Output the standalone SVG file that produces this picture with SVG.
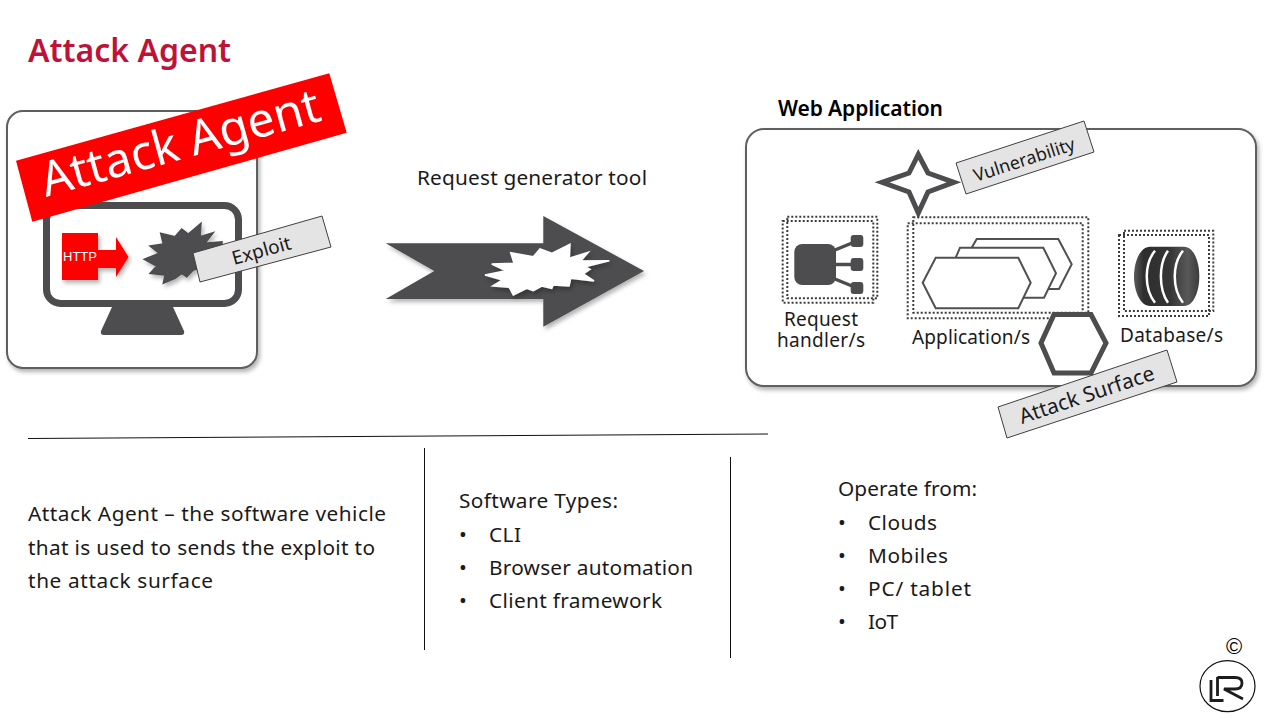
<svg xmlns="http://www.w3.org/2000/svg" width="1280" height="720" viewBox="0 0 1280 720">
<style>
text{font-family:"Noto Sans","Open Sans",sans-serif;fill:#1a1a1a}
.body{font-size:20.800px}
.lbl{font-size:19px}
.tag{fill:#e4e4e4;stroke:#404040;stroke-width:1}
.dot{fill:none;stroke:#3c3c3c;stroke-width:2;stroke-dasharray:2 2}
.hex{fill:#fff;stroke:#505050;stroke-width:2}
.dark{fill:#4d4d4f}
.rule{stroke:#111;stroke-width:1;fill:none}
.panel{fill:#fff;stroke:#5f5f5f;stroke-width:2}
</style>
<defs>
<filter id="sh" x="-10%" y="-10%" width="125%" height="125%"><feDropShadow dx="2" dy="3" stdDeviation="2" flood-color="#000" flood-opacity=".3"/></filter>
<linearGradient id="db" x1="0" x2="1" y1="0" y2="0"><stop offset="0" stop-color="#5a5a5a"/><stop offset=".15" stop-color="#2e2e2e"/><stop offset=".55" stop-color="#353535"/><stop offset=".82" stop-color="#585858"/><stop offset="1" stop-color="#3c3c3c"/></linearGradient>
</defs>
<rect width="1280" height="720" fill="#fff"/>
<text id="title" x="28" y="62" font-weight="600" style="fill:#bf1238;font-size:32px">Attack Agent</text>

<g id="attack-agent">
<rect class="panel" x="7" y="111" width="250" height="257" rx="16" filter="url(#sh)"/>
<rect x="46.500" y="205.500" width="192" height="98" rx="14" fill="#fff" stroke="#4d4d4f" stroke-width="7"/>
<path class="dark" d="M112 307H173L184 331Q185 335 181 335H104Q100 335 101 331Z"/>
<g filter="url(#sh)">
<rect x="62" y="233" width="36" height="47" fill="#f00"/>
<path fill="#f00" d="M98 250H116V237L128.500 257L116 277V268H98Z"/>
</g>
<text x="63" y="261" style="fill:#fff;font-family:'Liberation Sans',sans-serif;font-size:13px">HTTP</text>
<polygon class="dark" stroke="#4d4d4f" stroke-width="1.500" filter="url(#sh)" points="144.300,259.300 159.300,253.300 150,246 163.300,244 160.700,233.300 175,236.700 181.700,229 188.300,234 201,223.300 200,236.700 213.300,232.700 205,243.300 222,241.700 222,262 193.300,270 186.700,276.700 181.700,273.300 175,278.300 163.300,283.300 165,275 150,273.300 156.700,266"/>
</g>

<g id="attack-agent-banner">
<polygon points="16,160.700 329.300,73.300 346.700,132.700 32.300,221.700" fill="#f00"/>
<text transform="translate(46,197) rotate(-15.500)" style="fill:#fff;font-size:48px">Attack Agent</text>
</g>
<g id="exploit-tag">
<polygon class="tag" points="193,253 322,216 331,247 200,282"/>
<text transform="translate(234,265) rotate(-15.500)" style="font-size:19px">Exploit</text>
</g>

<g id="request-tool">
<text x="417" y="185" class="body" textLength="230">Request generator tool</text>
<polygon class="dark" filter="url(#sh)" points="385.700,243.300 543.300,243.300 543.300,216 644,271 543.300,326.700 543.300,299 385.700,299 434.300,271"/>
<polygon fill="#fff" stroke="#fff" stroke-width="1.500" filter="url(#sh)" points="485,275 506,270.700 491.700,264 514,263.300 510.700,252.700 533.300,256.700 540,249 551.700,253.300 570,244.300 569.300,258.300 588.300,252.300 580.700,261 609.300,260.700 585,266.700 590,269.300 583.300,274 594,281 570.700,278.300 569,286 553.300,285 551.700,288.300 541.700,286 533.300,290.700 526.700,288.300 513.300,295 509.300,287.300 492.700,286 502.700,280"/>
</g>

<g id="web-application">
<text x="778" y="116" textLength="165" style="font-size:21px;font-weight:600;fill:#000">Web Application</text>
<rect class="panel" x="746" y="129" width="510" height="257" rx="18" filter="url(#sh)"/>
</g>

<g id="vulnerability-star">
<path d="M918.300 154.500L928 173L954 182.300L928 192L918.300 213L909 192L882 182.300L909 173Z" fill="#fff" stroke="#4d4d4f" stroke-width="5"/>
</g>
<g id="vulnerability-tag">
<polygon class="tag" points="956,163 1084,121 1094,152 966,194"/>
<text transform="translate(976,182) rotate(-18)" style="font-size:18px">Vulnerability</text>
</g>

<g id="request-handler">
<rect class="dot" x="787.300" y="216.700" width="90" height="81.600"/>
<rect class="dot" x="782.700" y="221" width="90.600" height="81.700"/>
<rect class="dark" x="794.300" y="244" width="41.700" height="41" rx="8"/>
<path d="M830 252L857 241M830 264.500H857M830 277L857 288" stroke="#4d4d4f" stroke-width="3.500" fill="none"/>
<rect class="dark" x="850.700" y="235" width="12.600" height="12" rx="3"/>
<rect class="dark" x="850.700" y="258" width="12.600" height="13" rx="3"/>
<rect class="dark" x="850.700" y="282" width="12.600" height="12" rx="3"/>
<text x="784" y="326" class="lbl" textLength="74">Request</text>
<text x="777" y="347" class="lbl" textLength="88">handler/s</text>
</g>

<g id="application">
<rect class="dot" x="913.300" y="217.300" width="175" height="95.400"/>
<rect class="dot" x="907.700" y="223.300" width="175" height="95"/>
<polygon class="hex" points="976.700,239 1058.300,239 1071.700,264.300 1059,289 1000,289 971.700,247.700"/>
<polygon class="hex" points="960,247.700 1043.300,247.700 1056,273.300 1044,297.700 990,297.700 955.700,257.700"/>
<polygon class="hex" points="922.700,282.700 935.700,257.700 1018.300,257.700 1030.700,282.700 1018.300,308.300 935.700,308.300"/>
<text x="912" y="344" class="lbl" textLength="118">Application/s</text>
</g>

<g id="database">
<rect class="dot" x="1124" y="230.700" width="89.300" height="80.300"/>
<rect class="dot" x="1119" y="235" width="90" height="81"/>
<path d="M1150 246.700H1184C1194 246.700 1199.300 262 1199.300 276.300C1199.300 291 1194 306 1184 306H1150C1140 306 1134 291 1134 276.300C1134 262 1140 246.700 1150 246.700Z" fill="url(#db)"/>
<path d="M1155 250.700C1144 264 1144 289 1155 302.700M1168 250.700C1158.500 264 1158.500 289 1168 302.700M1183 250.700C1172 264 1172 289 1183 302.700" stroke="#fff" stroke-width="2.500" fill="none"/>
<text x="1120" y="342" class="lbl" textLength="103">Database/s</text>
</g>

<g id="attack-surface-hex">
<polygon points="1041,343 1054,314.500 1091,314.500 1106,343 1091,373 1054,373" fill="#fff" stroke="#4d4d4f" stroke-width="5"/>
</g>
<g id="attack-surface-tag">
<polygon class="tag" points="998,407 1167,350 1177,382 1007,438"/>
<text transform="translate(1022,424) rotate(-18.500)" style="font-size:21px">Attack Surface</text>
</g>

<g id="rules">
<path class="rule" d="M28 438.500L768 434M424.500 448V650M730.500 457V658"/>
</g>

<g id="definition">
<text x="28" y="521" class="body" textLength="358">Attack Agent – the software vehicle</text>
<text x="28" y="555" class="body" textLength="347">that is used to sends the exploit to</text>
<text x="28" y="588" class="body" textLength="185">the attack surface</text>
</g>
<g id="software-types">
<text x="459" y="508" class="body" textLength="159">Software Types:</text>
<text x="459" y="542" class="body">•</text><text x="489" y="542" class="body" textLength="32">CLI</text>
<text x="459" y="575" class="body">•</text><text x="489" y="575" class="body" textLength="204">Browser automation</text>
<text x="459" y="608" class="body">•</text><text x="489" y="608" class="body" textLength="173">Client framework</text>
</g>
<g id="operate-from">
<text x="838" y="496" class="body" textLength="139">Operate from:</text>
<text x="838" y="530" class="body">•</text><text x="868" y="530" class="body" textLength="69">Clouds</text>
<text x="838" y="563" class="body">•</text><text x="868" y="563" class="body" textLength="80">Mobiles</text>
<text x="838" y="596" class="body">•</text><text x="868" y="596" class="body" textLength="103">PC/ tablet</text>
<text x="838" y="629" class="body">•</text><text x="868" y="629" class="body" textLength="30">IoT</text>
</g>
<g id="logo">
<text x="1234" y="654" text-anchor="middle" style="font-family:'Liberation Sans',sans-serif;font-size:22px;fill:#000">©</text>
<ellipse cx="1227.500" cy="686.200" rx="27.500" ry="25.500" fill="#fff" stroke="#111" stroke-width="1.200"/>
<path d="M1211 680V700.500H1223.500M1217.500 677V696M1217.500 677.500H1235Q1242 677.500 1242 683Q1242 689 1235 689H1224L1243 699" fill="none" stroke="#1c1c1c" stroke-width="2.800"/>
</g>
</svg>
